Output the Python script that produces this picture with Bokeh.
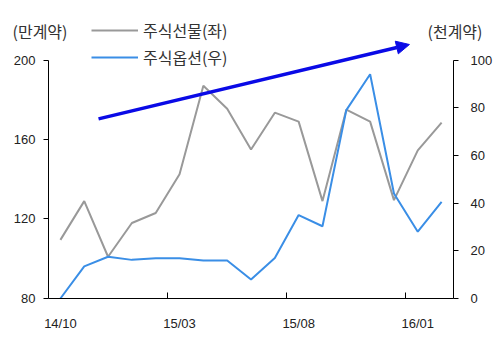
from bokeh.plotting import figure
from bokeh.models import (Range1d, LinearAxis, FixedTicker, Arrow, NormalHead,
                          Label, Legend, LegendItem)
from bokeh.embed import file_html
from bokeh.resources import INLINE

months = ["14/10", "14/11", "14/12", "15/01", "15/02", "15/03", "15/04", "15/05",
          "15/06", "15/07", "15/08", "15/09", "15/10", "15/11", "15/12", "16/01", "16/02"]
futures = [109.5, 129, 101, 118, 123, 142.5, 187, 175.5, 155, 173.5, 169, 129,
           175, 169, 129.5, 154.5, 168.5]
options = [0, 13.5, 17.5, 16.2, 16.9, 16.9, 15.9, 15.9, 8, 17, 35, 30.3,
           79, 94, 44, 28, 40.5]
label_idx = [0, 5, 10, 15]
left_ticks = [80, 120, 160, 200]
right_ticks = [0, 20, 40, 60, 80, 100]

xs = list(range(len(months)))
n = len(months)

W, H = 495, 351
# frame covers whole canvas; axes are drawn at fixed data locations
p = figure(width=W, height=H, output_backend="svg", toolbar_location=None,
           x_range=Range1d(-2.5148, 18.262),
           y_range=Range1d(53.33, 229.94),
           min_border=0, y_axis_location=None, x_axis_location=None)
p.outline_line_color = None
p.grid.visible = False
p.background_fill_color = "white"
p.border_fill_color = "white"
p.extra_y_ranges = {"right": Range1d(-22.22, 124.95)}

tick_font = "Liberation Sans"
tick_color = "#222222"

xaxis = LinearAxis(ticker=FixedTicker(ticks=label_idx,
                                      minor_ticks=[i - 0.5 for i in label_idx[1:]]),
                   major_label_overrides={i: months[i] for i in label_idx},
                   fixed_location=80, bounds=(-0.5, n - 0.5))
xaxis.major_tick_line_color = None
xaxis.minor_tick_in = 6
xaxis.minor_tick_out = 0
xaxis.minor_tick_line_color = "black"
xaxis.axis_line_color = "black"
xaxis.major_label_standoff = 12
xaxis.major_label_text_font = tick_font
xaxis.major_label_text_font_size = "13px"
xaxis.major_label_text_color = tick_color
p.add_layout(xaxis, "below")

laxis = LinearAxis(ticker=FixedTicker(ticks=left_ticks), bounds=(80, 200),
                   fixed_location=-0.5)
laxis.minor_tick_line_color = None
laxis.major_tick_in = 0
laxis.major_tick_out = 5
laxis.major_label_standoff = 8
laxis.major_label_text_font = tick_font
laxis.major_label_text_font_size = "13px"
laxis.major_label_text_color = tick_color
p.add_layout(laxis, "left")

raxis = LinearAxis(y_range_name="right", ticker=FixedTicker(ticks=right_ticks),
                   bounds=(0, 100), fixed_location=n - 0.5)
raxis.minor_tick_line_color = None
raxis.major_tick_in = 0
raxis.major_tick_out = 5
raxis.major_label_standoff = 12
raxis.major_label_text_font = tick_font
raxis.major_label_text_font_size = "13px"
raxis.major_label_text_color = tick_color
p.add_layout(raxis, "right")

gray = p.line(xs, futures, line_color="#999999", line_width=2)
blue = p.line(xs, options, line_color="#3a8ee6", line_width=2, y_range_name="right")

kfont = "Noto Sans CJK KR"


def make_legend(label, renderer, loc):
    lg = Legend(items=[LegendItem(label=label, renderers=[renderer])], location=loc)
    lg.border_line_color = None
    lg.background_fill_alpha = 0
    lg.padding = 0
    lg.margin = 0
    lg.glyph_width = 47
    lg.glyph_height = 20
    lg.label_height = 20
    lg.label_standoff = 5
    lg.label_text_font = kfont
    lg.label_text_font_size = "16px"
    lg.label_text_color = "#333333"
    return lg


p.add_layout(make_legend("주식선물(좌)", gray, (91, 309)), "center")
p.add_layout(make_legend("주식옵션(우)", blue, (91, 282)), "center")

p.add_layout(Label(x=12, y=321, x_units="screen", y_units="screen", text="(만계약)",
                   text_font=kfont, text_font_size="16px", text_color="#333333",
                   text_baseline="middle"))
p.add_layout(Label(x=427, y=321, x_units="screen", y_units="screen", text="(천계약)",
                   text_font=kfont, text_font_size="16px", text_color="#333333",
                   text_baseline="middle"))

p.add_layout(Arrow(x_start=1.6, y_start=170.4, x_end=14.65, y_end=207.8,
                   line_color="#0a0ae6", line_width=3.5,
                   end=NormalHead(size=13, fill_color="#0a0ae6", line_color="#0a0ae6")))

open("out.html", "w").write(file_html(p, INLINE))
